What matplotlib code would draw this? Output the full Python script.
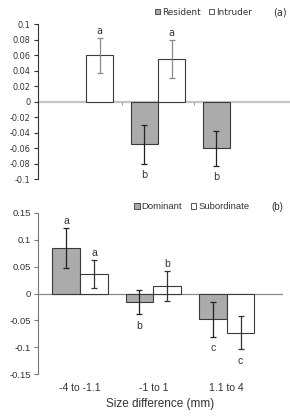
import numpy as np
import matplotlib
matplotlib.use("Agg")
import matplotlib.pyplot as plt
import matplotlib.patches as mpatches
from matplotlib.ticker import FuncFormatter

# Panel (a): resident vs intruder
categories = ["-4 to -1.1", "-1 to 1", "1.1 to 4"]
resident = [np.nan, -0.055, -0.060]
resident_err = [np.nan, 0.025, 0.0225]
resident_letters = ["", "b", "b"]
intruder = [0.060, 0.055, np.nan]
intruder_err = [0.0225, 0.0245, np.nan]
intruder_letters = ["a", "a", ""]

# Panel (b): dominant vs subordinate
dominant = [0.085, -0.016, -0.048]
dominant_err = [0.037, 0.023, 0.0325]
dominant_letters = ["a", "b", "c"]
subordinate = [0.036, 0.014, -0.073]
subordinate_err = [0.026, 0.028, 0.031]
subordinate_letters = ["a", "b", "c"]

GREY = "#ababab"
EDGE = "#3a3a3a"
TXT = "#333333"

fig = plt.figure(figsize=(2.9, 4.19), dpi=100)
fig.patch.set_facecolor("white")


def fmt(v, pos):
    if abs(v) < 1e-9:
        return "0"
    return f"{v:g}"


def draw_letters(ax, x, vals, errs, letters, family, size):
    for xi, v, e, lab in zip(x, vals, errs, letters):
        if not lab or np.isnan(v):
            continue
        if v >= 0:
            ax.annotate(lab, (xi, v + e), xytext=(0, 5), textcoords="offset points",
                        ha="center", va="center", fontsize=size, color=TXT, family=family)
        else:
            ax.annotate(lab, (xi, v - e), xytext=(0, -8), textcoords="offset points",
                        ha="center", va="center", fontsize=size, color=TXT, family=family)


def draw_panel(ax, left_vals, left_err, right_vals, right_err, width, right_ecolor):
    x = np.arange(len(categories))
    ax.bar(x - width / 2, left_vals, width, color=GREY, edgecolor=EDGE, linewidth=0.8, zorder=2)
    ax.bar(x + width / 2, right_vals, width, color="white", edgecolor=EDGE, linewidth=0.8, zorder=2)
    ax.errorbar(x - width / 2, left_vals, yerr=left_err, fmt="none", ecolor="#222222",
                elinewidth=0.9, capsize=2.2, capthick=0.9, zorder=3)
    ax.errorbar(x + width / 2, right_vals, yerr=right_err, fmt="none", ecolor=right_ecolor,
                elinewidth=0.9, capsize=2.2, capthick=0.9, zorder=3)
    for s in ["top", "right", "bottom"]:
        ax.spines[s].set_visible(False)
    return x


# ---- panel (a)
ax1 = fig.add_axes([0.130, 0.572, 0.87, 0.370])
w = 0.38
x = draw_panel(ax1, resident, resident_err, intruder, intruder_err, w, "#8a8a8a")
ax1.axhline(0, color="#c4c4c4", lw=1.6, zorder=1)
ax1.vlines([0.5, 1.5], -0.004, 0, color="#999999", lw=0.8)
draw_letters(ax1, x - w / 2, resident, resident_err, resident_letters, "DejaVu Sans", 7)
draw_letters(ax1, x + w / 2, intruder, intruder_err, intruder_letters, "DejaVu Sans", 7)
ax1.set_xlim(-0.67, 2.83)
ax1.set_ylim(-0.1, 0.1)
ax1.set_yticks(np.arange(-0.1, 0.1001, 0.02))
ax1.yaxis.set_major_formatter(FuncFormatter(fmt))
ax1.set_xticks([])
ax1.spines["left"].set_color("#333333")
ax1.tick_params(axis="y", length=3, width=0.8, color="#333333", labelsize=5.9,
                labelcolor=TXT, pad=2)
for t in ax1.get_yticklabels():
    t.set_family("DejaVu Sans")

# ---- panel (b)
ax2 = fig.add_axes([0.130, 0.107, 0.846, 0.385])
x = draw_panel(ax2, dominant, dominant_err, subordinate, subordinate_err, w, "#333333")
ax2.axhline(0, color="#8a8a8a", lw=0.9, zorder=1)
draw_letters(ax2, x - w / 2, dominant, dominant_err, dominant_letters, "Liberation Sans", 7.5)
draw_letters(ax2, x + w / 2, subordinate, subordinate_err, subordinate_letters, "Liberation Sans", 7.5)
ax2.set_xlim(-0.58, 2.77)
ax2.set_ylim(-0.15, 0.15)
ax2.set_yticks(np.arange(-0.15, 0.1501, 0.05))
ax2.yaxis.set_major_formatter(FuncFormatter(fmt))
ax2.set_xticks(x)
ax2.set_xticklabels(categories)
ax2.spines["left"].set_color("#777777")
ax2.tick_params(axis="y", length=3, width=0.8, color="#777777", labelsize=6.8,
                labelcolor=TXT, pad=2)
ax2.tick_params(axis="x", length=0, labelsize=7.5, labelcolor=TXT, pad=6)
for t in ax2.get_yticklabels() + ax2.get_xticklabels():
    t.set_family("Liberation Sans")
ax2.set_xlabel("Size difference (mm)", fontsize=8.5, color=TXT, family="Liberation Sans",
               labelpad=4)

# legends and panel tags
h1 = [mpatches.Patch(facecolor=GREY, edgecolor=EDGE, lw=0.6, label="Resident"),
      mpatches.Patch(facecolor="white", edgecolor=EDGE, lw=0.6, label="Intruder")]
fig.legend(handles=h1, loc="center left", bbox_to_anchor=(0.535, 0.971), ncol=2,
           frameon=False, handlelength=0.6, handleheight=0.6, handletextpad=0.2,
           columnspacing=0.9, borderaxespad=0, borderpad=0,
           prop={"family": "DejaVu Sans", "size": 6.4}, labelcolor=TXT)
fig.text(0.965, 0.971, "(a)", ha="center", va="center", fontsize=7, color=TXT,
         family="DejaVu Sans")

h2 = [mpatches.Patch(facecolor=GREY, edgecolor=EDGE, lw=0.6, label="Dominant"),
      mpatches.Patch(facecolor="white", edgecolor=EDGE, lw=0.6, label="Subordinate")]
fig.legend(handles=h2, loc="center left", bbox_to_anchor=(0.462, 0.506), ncol=2,
           frameon=False, handlelength=0.6, handleheight=0.6, handletextpad=0.2,
           columnspacing=0.9, borderaxespad=0, borderpad=0,
           prop={"family": "Liberation Sans", "size": 6.8}, labelcolor=TXT)
fig.text(0.955, 0.506, "(b)", ha="center", va="center", fontsize=7, color=TXT,
         family="Liberation Sans")

fig.savefig("out.png", dpi=100)
